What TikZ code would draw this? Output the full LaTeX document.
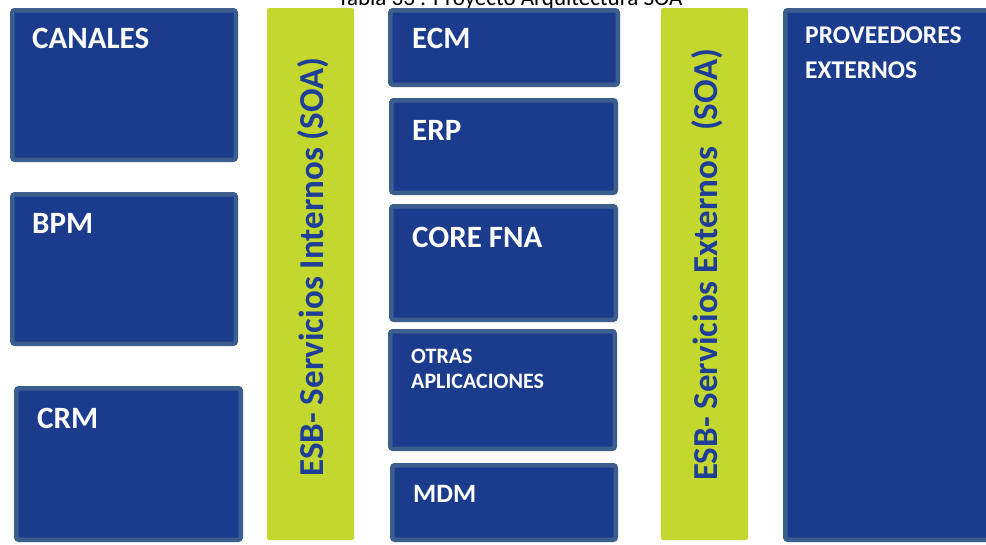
\documentclass[tikz,border=0pt]{standalone}
\usepackage{fontspec}
\setmainfont{Carlito}
\definecolor{boxfill}{RGB}{27,59,140}
\definecolor{boxline}{RGB}{60,94,140}
\definecolor{busfill}{RGB}{195,215,47}
\definecolor{bustext}{RGB}{30,62,152}
\begin{document}
\begin{tikzpicture}[x=1pt,y=-1pt,
  appbox/.style={draw=boxline, line width=4.5pt, fill=boxfill, rounded corners=2.5pt,
    inner sep=0pt, outer sep=0pt},
  busbar/.style={fill=busfill, rounded corners=2pt, inner sep=0pt, outer sep=0pt,
    minimum width=87pt, minimum height=532pt},
  boxlabel/.style={anchor=base west, inner sep=0pt, text=white, align=left,
    font=\bfseries\fontsize{31}{31}\selectfont},
  smalllabel/.style={boxlabel, font=\bfseries\fontsize{22}{25.5}\selectfont},
  midlabel/.style={boxlabel, font=\bfseries\fontsize{25.5}{35}\selectfont},
  buslabel/.style={rotate=90, anchor=base, inner sep=0pt, text=bustext,
    font=\bfseries\fontsize{35}{35}\selectfont},
  caption/.style={anchor=base, inner sep=0pt, font=\fontsize{23}{23}\selectfont}]
\useasboundingbox (0,0) rectangle (986,544);
\clip (0,0) rectangle (986,544);
\fill[white] (0,0) rectangle (986,544);

% caption
\node[caption] (cap) at (510,5) {Tabla 33 : Proyecto Arquitectura SOA};

% left column
\node[appbox, minimum width=223.5pt, minimum height=149.5pt] (canales) at (124,85) {};
\node[appbox, minimum width=223.5pt, minimum height=149.5pt] (bpm) at (124,269) {};
\node[appbox, minimum width=224.5pt, minimum height=151.5pt] (crm) at (128.5,464) {};
\node[boxlabel] (canalesT) at (32,48) {CANALES};
\node[boxlabel] (bpmT) at (32,233) {BPM};
\node[boxlabel] (crmT) at (37,428) {CRM};

% internal service bus
\node[busbar] (esbint) at (310.5,274) {};
\node[buslabel] (esbintT) at (323,267) {ESB- Servicios Internos (SOA)};

% middle column
\node[appbox, minimum width=227.5pt, minimum height=74.5pt] (ecm) at (504,47.5) {};
\node[appbox, minimum width=224.5pt, minimum height=92.5pt] (erp) at (503.5,146.5) {};
\node[appbox, minimum width=224.5pt, minimum height=113.5pt] (core) at (503.5,263) {};
\node[appbox, minimum width=224.5pt, minimum height=117.5pt] (otras) at (502.5,390) {};
\node[appbox, minimum width=223.5pt, minimum height=74.5pt] (mdm) at (504,502.5) {};
\node[boxlabel] (ecmT) at (412,48) {ECM};
\node[boxlabel] (erpT) at (412,140) {ERP};
\node[boxlabel] (coreT) at (412,247) {CORE FNA};
% multi-line labels are anchored at the baseline of their last line
\node[smalllabel] (otrasT) at (411,388.5) {OTRAS\\APLICACIONES};
\node[boxlabel, font=\bfseries\fontsize{26.5}{26.5}\selectfont] (mdmT) at (413,502) {MDM};

% external service bus
\node[busbar] (esbext) at (704.5,274) {};
\node[buslabel] (esbextT) at (717,264.5) {ESB- Servicios Externos~~(SOA)};

% external providers
\node[appbox, minimum width=222.5pt, minimum height=529.5pt] (prov) at (896.5,275) {};
\node[midlabel] (provT) at (805,78) {PROVEEDORES\\EXTERNOS};
\end{tikzpicture}
\end{document}
